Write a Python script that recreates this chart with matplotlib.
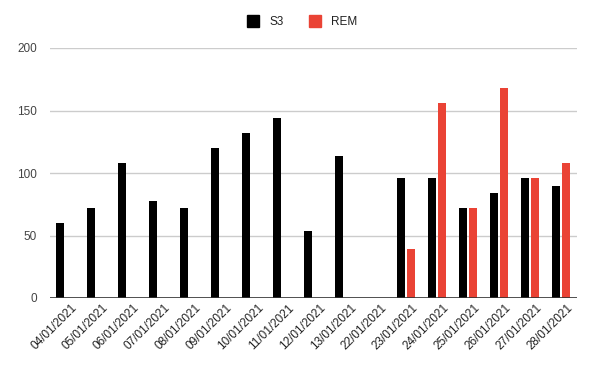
import numpy as np
import matplotlib
matplotlib.use('Agg')
import matplotlib.pyplot as plt
from matplotlib.lines import Line2D

plt.rcParams['font.family'] = ['Liberation Sans', 'DejaVu Sans']

# 数据
dates = ['04/01/2021', '05/01/2021', '06/01/2021', '07/01/2021', '08/01/2021',
         '09/01/2021', '10/01/2021', '11/01/2021', '12/01/2021', '13/01/2021',
         '22/01/2021', '23/01/2021', '24/01/2021', '25/01/2021', '26/01/2021',
         '27/01/2021', '28/01/2021']
s3 = [60, 72, 108, 78, 72, 120, 132, 144, 54, 114, 0, 96, 96, 72, 84, 96, 90]
rem = [0, 0, 0, 0, 0, 0, 0, 0, 0, 0, 0, 39, 156, 72, 168, 96, 108]

fig = plt.figure(figsize=(5.99, 3.69), dpi=100)
ax = fig.add_axes([49.5 / 599, 71 / 369, 527 / 599, 250 / 369])

x = np.arange(len(dates))
w = 0.26
off = 0.162
ax.bar(x - off, s3, width=w, color='#000000', zorder=3)
ax.bar(x + off, rem, width=w, color='#ea4335', zorder=3)

ax.set_xlim(-0.5, len(dates) - 0.5)
ax.set_ylim(0, 200)
ax.set_yticks([0, 50, 100, 150, 200])
ax.grid(axis='y', color='#cccccc', linewidth=1, zorder=0)
ax.axhline(0, color='#333333', linewidth=1.2, zorder=4)
for s in ax.spines.values():
    s.set_visible(False)
ax.tick_params(axis='y', length=0, pad=9, labelsize=8.5, labelcolor='#444444')
ax.tick_params(axis='x', length=0, pad=3, labelsize=8.5, labelcolor='#222222')
ax.set_xticks(x + 0.2)
ax.set_xticklabels(dates, rotation=45, ha='right', va='top', rotation_mode='anchor')

# 图例
handles = [Line2D([], [], marker='s', linestyle='', color='#000000', markersize=8),
           Line2D([], [], marker='s', linestyle='', color='#ea4335', markersize=8)]
fig.legend(handles, ['S3', 'REM'], loc='center', bbox_to_anchor=(0.5, 1 - 22 / 369),
           ncol=2, frameon=False, fontsize=8.5, handletextpad=0.4, columnspacing=1.6,
           labelcolor='#222222')

fig.savefig('out.png', dpi=100)
